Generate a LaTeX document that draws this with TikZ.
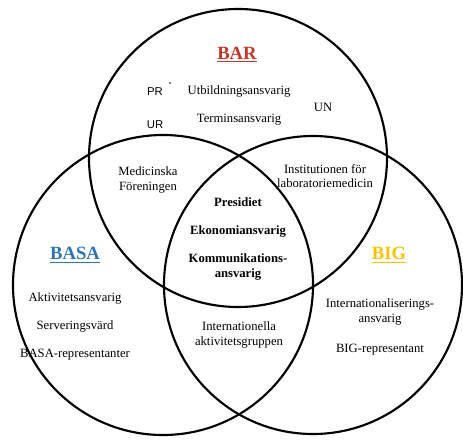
\documentclass[tikz,border=0pt]{standalone}
\usepackage{fontspec}
\setmainfont{Liberation Serif}
\newfontfamily\sansfont{Liberation Sans}
\usepackage{xcolor}
\definecolor{barred}{RGB}{192,57,43}
\definecolor{basablue}{RGB}{46,117,182}
\definecolor{biggold}{RGB}{255,192,0}

\begin{document}
\begin{tikzpicture}[x=0.75pt, y=-0.75pt, line cap=round, line join=round]
    \useasboundingbox (0,0) rectangle (463,439);
    \tikzset{
        ring/.style={line width=1.6pt},
        role/.style={font=\fontsize{9.5}{11}\selectfont, align=center},
        core/.style={font=\fontsize{9.5}{11}\selectfont\bfseries, align=center},
        head/.style={font=\fontsize{14}{16}\selectfont\bfseries}
    }

    % the three circles
    \draw[ring] (238,158) circle (149);
    \draw[ring] (163,285) circle (150);
    \draw[ring] (313,285) circle (149);

    % BAR
    \node[head, text=barred] (bar) at (237,55) {\underline{BAR}};
    \node[role, font=\sansfont\fontsize{8.5}{10}\selectfont] (pr) at (155,92) {PR};
    \node[role, font=\sansfont\fontsize{8.5}{10}\selectfont] (ur) at (155,125) {UR};
    \fill (170,83) circle (0.6pt) coordinate (dot);
    \node[role] (utb) at (239,91) {Utbildningsansvarig};
    \node[role] (term) at (239,120) {Terminsansvarig};
    \node[role] (un) at (323,107) {UN};

    % overlaps
    \node[role] (medfor) at (148,180) {Medicinska\\ Föreningen};
    \node[role] (inst) at (325,176) {Institutionen för\\ laboratoriemedicin};
    \node[role] (intakt) at (239,335) {Internationella\\ aktivitetsgruppen};

    % centre
    \node[core] (pres) at (238,202) {Presidiet};
    \node[core] (ekon) at (238,231) {Ekonomiansvarig};
    \node[core] (komm) at (238,267) {Kommunikations-\\ ansvarig};

    % BASA
    \node[head, text=basablue] (basa) at (75,255) {\underline{BASA}};
    \node[role] (akt) at (75,298) {Aktivitetsansvarig};
    \node[role] (serv) at (75,326) {Serveringsvärd};
    \node[role] (basarep) at (75,355) {BASA-representanter};

    % BIG
    \node[head, text=biggold] (big) at (389,255) {\underline{BIG}};
    \node[role] (intans) at (380,312) {Internationaliserings-\\ ansvarig};
    \node[role] (bigrep) at (380,350) {BIG-representant};
\end{tikzpicture}
\end{document}
